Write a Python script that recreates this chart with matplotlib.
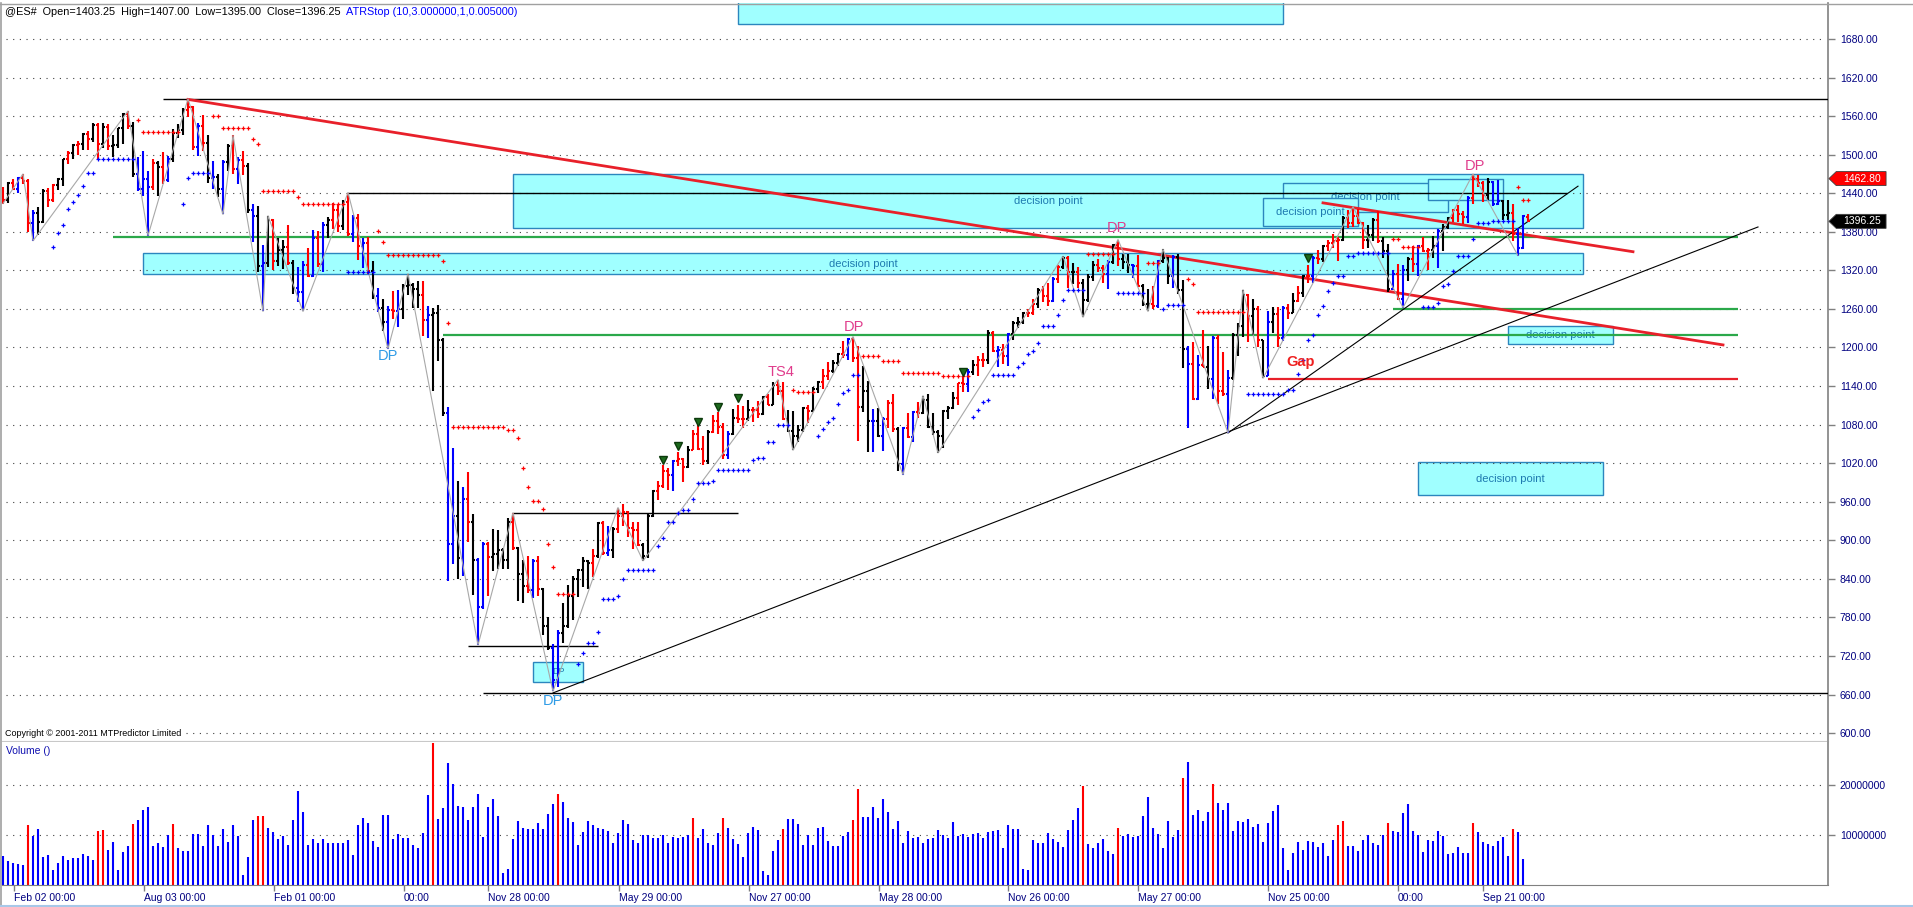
import numpy as np
import pandas as pd
import matplotlib
matplotlib.use("Agg")
import matplotlib.pyplot as plt
import matplotlib.transforms as mtransforms
from matplotlib.patches import Rectangle, Polygon
from matplotlib.lines import Line2D

plt.rcParams['font.family'] = ['Liberation Sans', 'DejaVu Sans']

# weekly @ES# bars, Jan 2007 .. Nov 2012
opens = [
    1440, 1430, 1456, 1446, 1463, 1459, 1393, 1409, 1395, 1444,
    1430, 1453, 1462, 1493, 1503, 1515, 1516, 1532, 1525, 1546,
    1517, 1543, 1513, 1515, 1541, 1563, 1545, 1470, 1446, 1462,
    1450, 1487, 1481, 1460, 1494, 1534, 1538, 1570, 1574, 1512,
    1545, 1518, 1463, 1466, 1447, 1488, 1513, 1477, 1492, 1483,
    1414, 1405, 1327, 1331, 1398, 1334, 1352, 1356, 1331, 1293,
    1286, 1328, 1312, 1370, 1330, 1390, 1398, 1414, 1389, 1427,
    1377, 1402, 1358, 1362, 1319, 1280, 1262, 1240, 1259, 1256,
    1260, 1295, 1297, 1291, 1281, 1243, 1251, 1254, 1211, 1098,
    894, 938, 873, 965, 928, 870, 796, 895, 874, 878,
    885, 870, 928, 888, 847, 829, 822, 867, 824, 767,
    733, 683, 755, 766, 813, 840, 854, 867, 864, 875,
    927, 880, 885, 917, 938, 944, 919, 916, 893, 876,
    938, 977, 985, 1008, 1002, 1024, 1026, 1014, 1041, 1066,
    1042, 1023, 1069, 1085, 1077, 1033, 1066, 1090, 1088, 1088,
    1103, 1103, 1097, 1123, 1111, 1141, 1132, 1088, 1070, 1062,
    1072, 1106, 1101, 1135, 1146, 1156, 1163, 1176, 1190, 1189,
    1213, 1183, 1107, 1132, 1085, 1086, 1062, 1088, 1114, 1073,
    1019, 1074, 1061, 1100, 1098, 1118, 1076, 1068, 1062, 1101,
    1106, 1122, 1145, 1143, 1162, 1172, 1180, 1180, 1222, 1195,
    1196, 1186, 1221, 1238, 1240, 1253, 1254, 1268, 1290, 1280,
    1273, 1307, 1326, 1340, 1317, 1318, 1301, 1274, 1310, 1329,
    1324, 1315, 1333, 1359, 1337, 1333, 1329, 1327, 1296, 1267,
    1268, 1265, 1335, 1340, 1312, 1341, 1289, 1197, 1174, 1120,
    1173, 1170, 1151, 1214, 1133, 1128, 1152, 1220, 1234, 1281,
    1249, 1260, 1212, 1155, 1240, 1252, 1215, 1262, 1253, 1273,
    1285, 1311, 1312, 1340, 1338, 1358, 1362, 1366, 1368, 1401,
    1394, 1405, 1394, 1367, 1375, 1399, 1365, 1350, 1291, 1314,
    1275, 1321, 1338, 1330, 1358, 1350, 1352, 1358, 1382, 1387,
    1401, 1414, 1408, 1403, 1433, 1462, 1456, 1437, 1457, 1423,
    1428, 1406, 1410, 1376, 1355, 1403.25]
highs = [
    1449, 1458, 1462, 1465, 1470, 1462, 1414, 1418, 1446, 1448,
    1455, 1463, 1494, 1506, 1516, 1521, 1534, 1537, 1549, 1550,
    1549, 1547, 1531, 1542, 1565, 1568, 1551, 1497, 1505, 1475,
    1493, 1490, 1504, 1498, 1540, 1548, 1572, 1587, 1576, 1550,
    1562, 1530, 1490, 1470, 1492, 1517, 1530, 1496, 1505, 1487,
    1423, 1420, 1360, 1405, 1400, 1370, 1368, 1390, 1336, 1326,
    1334, 1355, 1383, 1382, 1396, 1403, 1425, 1422, 1430, 1441,
    1406, 1407, 1370, 1372, 1335, 1292, 1276, 1265, 1288, 1289,
    1299, 1315, 1301, 1303, 1304, 1265, 1262, 1266, 1214, 1107,
    1044, 993, 983, 1007, 941, 873, 897, 897, 917, 916,
    888, 934, 943, 890, 870, 876, 871, 875, 826, 780,
    738, 760, 802, 831, 845, 855, 874, 869, 887, 929,
    930, 922, 920, 951, 956, 946, 929, 929, 896, 941,
    979, 993, 1017, 1012, 1025, 1038, 1028, 1047, 1072, 1079,
    1062, 1072, 1095, 1099, 1083, 1070, 1104, 1111, 1109, 1118,
    1107, 1117, 1125, 1127, 1146, 1150, 1147, 1103, 1101, 1079,
    1108, 1110, 1138, 1148, 1166, 1177, 1180, 1191, 1210, 1214,
    1217, 1203, 1171, 1148, 1105, 1106, 1092, 1118, 1128, 1077,
    1076, 1098, 1101, 1115, 1125, 1128, 1098, 1072, 1102, 1109,
    1130, 1145, 1155, 1166, 1180, 1187, 1192, 1227, 1226, 1203,
    1205, 1223, 1241, 1247, 1255, 1260, 1276, 1292, 1296, 1300,
    1310, 1328, 1342, 1342, 1332, 1325, 1306, 1315, 1335, 1337,
    1328, 1336, 1361, 1368, 1346, 1345, 1330, 1344, 1299, 1291,
    1296, 1336, 1353, 1341, 1344, 1346, 1305, 1202, 1208, 1189,
    1227, 1203, 1218, 1219, 1193, 1165, 1222, 1238, 1290, 1283,
    1275, 1265, 1212, 1256, 1263, 1263, 1264, 1268, 1285, 1295,
    1313, 1329, 1342, 1351, 1360, 1367, 1376, 1372, 1404, 1414,
    1419, 1415, 1395, 1390, 1402, 1412, 1372, 1361, 1320, 1330,
    1328, 1341, 1358, 1360, 1372, 1355, 1373, 1384, 1392, 1403,
    1416, 1422, 1412, 1435, 1470, 1469, 1459, 1463, 1459, 1460,
    1430, 1430, 1423, 1386, 1406, 1407]
lows = [
    1424, 1425, 1445, 1440, 1455, 1379, 1366, 1375, 1393, 1418,
    1426, 1445, 1452, 1486, 1494, 1500, 1508, 1507, 1520, 1494,
    1510, 1508, 1497, 1510, 1517, 1540, 1466, 1444, 1435, 1374,
    1445, 1436, 1454, 1457, 1488, 1526, 1530, 1558, 1507, 1498,
    1505, 1456, 1447, 1434, 1407, 1474, 1470, 1455, 1468, 1410,
    1364, 1318, 1256, 1325, 1320, 1327, 1322, 1328, 1283, 1270,
    1256, 1310, 1310, 1326, 1318, 1371, 1384, 1380, 1383, 1373,
    1364, 1336, 1324, 1315, 1276, 1255, 1225, 1198, 1245, 1232,
    1245, 1282, 1261, 1262, 1218, 1215, 1132, 1179, 1093, 836,
    863, 840, 845, 897, 815, 737, 793, 813, 852, 855,
    855, 856, 885, 806, 802, 818, 810, 814, 753, 730,
    665, 671, 740, 764, 776, 812, 828, 824, 843, 873,
    877, 876, 873, 912, 923, 905, 887, 891, 868, 872,
    936, 962, 982, 978, 976, 1016, 990, 1012, 1040, 1040,
    1017, 1018, 1067, 1066, 1026, 1027, 1064, 1083, 1075, 1086,
    1084, 1090, 1095, 1110, 1110, 1126, 1087, 1068, 1040, 1053,
    1069, 1083, 1101, 1129, 1136, 1150, 1160, 1171, 1183, 1180,
    1177, 1055, 1100, 1037, 1038, 1060, 1039, 1075, 1069, 1008,
    1002, 1059, 1053, 1090, 1097, 1074, 1064, 1036, 1044, 1088,
    1105, 1111, 1131, 1131, 1157, 1155, 1170, 1175, 1193, 1170,
    1175, 1171, 1212, 1230, 1236, 1248, 1251, 1262, 1270, 1265,
    1270, 1300, 1322, 1292, 1299, 1292, 1247, 1271, 1303, 1318,
    1300, 1291, 1330, 1327, 1322, 1316, 1308, 1294, 1265, 1256,
    1260, 1262, 1331, 1298, 1293, 1283, 1168, 1074, 1118, 1118,
    1169, 1135, 1120, 1112, 1125, 1067, 1150, 1187, 1216, 1208,
    1220, 1200, 1152, 1155, 1223, 1200, 1210, 1244, 1253, 1270,
    1278, 1300, 1300, 1330, 1333, 1350, 1355, 1335, 1365, 1386,
    1388, 1392, 1353, 1355, 1365, 1363, 1340, 1286, 1290, 1274,
    1262, 1303, 1317, 1311, 1348, 1321, 1339, 1323, 1350, 1384,
    1396, 1395, 1392, 1394, 1423, 1449, 1427, 1429, 1420, 1422,
    1399, 1399, 1366, 1343, 1354, 1395]
closes = [
    1430, 1456, 1446, 1463, 1459, 1393, 1409, 1395, 1444, 1430,
    1453, 1462, 1493, 1503, 1515, 1516, 1532, 1525, 1546, 1517,
    1543, 1513, 1515, 1541, 1563, 1545, 1470, 1446, 1462, 1450,
    1487, 1481, 1460, 1494, 1534, 1538, 1570, 1574, 1512, 1545,
    1518, 1463, 1466, 1447, 1488, 1513, 1477, 1492, 1483, 1414,
    1405, 1327, 1331, 1398, 1334, 1352, 1356, 1331, 1293, 1286,
    1328, 1312, 1370, 1330, 1390, 1398, 1414, 1389, 1427, 1377,
    1402, 1358, 1362, 1319, 1280, 1262, 1240, 1259, 1256, 1260,
    1295, 1297, 1291, 1281, 1243, 1251, 1254, 1211, 1098, 894,
    938, 873, 965, 928, 870, 796, 895, 874, 878, 885,
    870, 928, 888, 847, 829, 822, 867, 824, 767, 733,
    683, 756, 766, 813, 840, 854, 867, 864, 875, 927,
    880, 885, 917, 938, 944, 919, 916, 893, 876, 938,
    977, 985, 1008, 1002, 1024, 1026, 1014, 1041, 1066, 1042,
    1023, 1069, 1085, 1077, 1033, 1066, 1090, 1088, 1088, 1103,
    1103, 1097, 1123, 1111, 1141, 1132, 1088, 1070, 1062, 1072,
    1106, 1101, 1135, 1146, 1156, 1163, 1176, 1190, 1189, 1213,
    1183, 1107, 1132, 1085, 1086, 1062, 1088, 1114, 1073, 1019,
    1074, 1061, 1100, 1098, 1118, 1076, 1068, 1062, 1101, 1106,
    1122, 1145, 1143, 1162, 1172, 1180, 1180, 1222, 1195, 1196,
    1186, 1221, 1238, 1240, 1253, 1254, 1268, 1290, 1280, 1273,
    1307, 1326, 1340, 1317, 1318, 1301, 1274, 1310, 1329, 1324,
    1315, 1333, 1359, 1337, 1333, 1329, 1327, 1296, 1267, 1268,
    1265, 1335, 1340, 1312, 1341, 1289, 1197, 1174, 1120, 1173,
    1170, 1151, 1214, 1133, 1128, 1152, 1220, 1234, 1281, 1249,
    1260, 1212, 1155, 1240, 1252, 1215, 1262, 1253, 1273, 1285,
    1311, 1312, 1340, 1338, 1358, 1362, 1366, 1368, 1401, 1394,
    1405, 1394, 1367, 1375, 1399, 1365, 1350, 1291, 1314, 1275,
    1321, 1338, 1330, 1358, 1350, 1352, 1358, 1382, 1387, 1401,
    1414, 1408, 1403, 1433, 1462, 1456, 1437, 1457, 1423, 1428,
    1406, 1410, 1376, 1355, 1404, 1396.25]
# k = black, r = red, b = blue
bar_colors = ("rkrbrrbkkr" "rkkrkrkrkr" "krkkkrkbbb" "rkrbkkkrrb" "rkbkbkrbrk"
              "bkbkrkkrkb" "brbrbkrrkr" "brbrkbkbrb" "kkkkrbkk"
              "kbbkbrkbbr" "kkkkrkkrbr" "kkbbkkkkkk" "rkrbkrrrrr" "kkkrrrbrrk"
              "rrrkrrrbkr" "rkrrkrkrrk" "kkkrkkrrkk" "rbrrkkbk"
              "brrkbrbrkk" "kkkkkrrbkr" "rkrbrbkkkr" "rkrrbrkrkr" "kkkrrbkrkk"
              "brkkrbkkbk" "kbrbrkbrrb" "kkkrkrkbkr" "brkr"
              "krbrkrrrkr" "rrrkkrkkbr" "bkrbrrkbkk" "rrrbrrrkbb" "kkrbbr")

# volume in millions
volume = [
    5.8, 4.9, 4.5, 4.2, 4.0, 12.0, 9.8, 11.2, 5.6, 6.1,
    3.1, 4.5, 5.9, 5.0, 5.4, 5.4, 6.2, 5.9, 5.1, 10.8,
    11.0, 7.1, 8.7, 3.1, 6.7, 7.9, 12.3, 13.0, 15.1, 15.6,
    7.8, 8.5, 7.6, 10.0, 12.2, 7.4, 6.9, 6.9, 10.2, 10.2,
    7.8, 12.0, 10.1, 7.8, 11.2, 8.6, 12.0, 9.8, 2.0, 5.6,
    13.0, 13.8, 13.8, 11.5, 10.6, 9.2, 9.8, 8.1, 13.0, 18.8,
    14.7, 8.1, 9.2, 8.4, 9.2, 8.4, 8.4, 8.4, 8.4, 9.1,
    6.1, 12.0, 13.5, 12.5, 8.9, 7.6, 14.0, 14.0, 9.2, 10.2,
    9.5, 9.5, 8.1, 7.4, 10.4, 18.0, 28.5, 13.2, 15.4, 24.4,
    20.3, 15.9, 15.6, 13.0, 15.6, 18.3, 9.6, 15.6, 17.3, 13.8,
    2.4, 3.2, 9.2, 12.9, 11.5, 11.3, 11.3, 12.5, 11.3, 14.2,
    16.3, 18.3, 16.7, 13.5, 12.7, 8.1, 10.6, 12.9, 12.1, 11.5,
    11.3, 10.8, 8.5, 10.4, 13.0, 12.3, 9.1, 8.5, 10.0, 10.0,
    9.5, 9.5, 10.0, 8.4, 9.6, 9.4, 9.6, 10.0, 13.5, 9.4,
    11.2, 8.5, 8.1, 10.4, 13.5, 11.5, 9.2, 8.3, 5.7, 10.4,
    11.7, 11.0, 2.8, 2.0, 6.9, 9.1, 11.2, 13.2, 13.2, 12.2,
    8.1, 10.0, 8.1, 11.5, 11.7, 8.9, 7.8, 7.8, 9.8, 10.6,
    13.0, 19.3, 13.6, 13.6, 15.6, 13.5, 17.3, 14.7, 11.3, 12.9,
    8.5, 10.8, 9.4, 9.6, 8.4, 9.3, 9.4, 11.1, 10.0, 9.5,
    12.7, 9.9, 10.3, 9.7, 10.2, 10.4, 9.5, 10.7, 10.9, 11.1,
    7.5, 12.0, 11.2, 11.2, 3.3, 3.0, 9.0, 8.4, 8.4, 10.4,
    9.3, 8.7, 7.7, 11.1, 13.1, 15.5, 19.9, 8.2, 7.5, 8.4,
    9.2, 6.9, 6.3, 11.5, 9.9, 10.2, 9.7, 9.9, 13.9, 17.7,
    11.5, 10.3, 7.5, 12.9, 9.7, 11.1, 21.5, 24.7, 14.0, 15.1,
    12.9, 14.7, 20.3, 16.5, 15.1, 16.5, 10.9, 12.9, 12.7, 13.3,
    11.7, 12.3, 8.7, 12.5, 14.9, 16.1, 7.5, 3.1, 6.4, 8.7,
    7.1, 8.9, 8.7, 7.7, 8.4, 5.9, 9.1, 12.0, 12.9, 7.9,
    7.9, 6.9, 9.1, 10.0, 8.4, 8.1, 10.0, 12.5, 10.9, 10.7,
    14.5, 16.3, 10.9, 10.0, 6.7, 9.1, 8.9, 10.9, 9.9, 6.3,
    6.4, 7.7, 6.5, 6.5, 12.5, 10.7, 8.7, 8.3, 7.9, 8.9,
    9.7, 5.9, 11.2, 10.7, 5.3]
red_volume_bars = [5, 19, 20, 26, 34, 51, 52, 86, 111, 138, 144, 156, 170, 171,
                   216, 223, 236, 242, 267, 268, 277, 294, 302]

date_ticks = [2.1, 28.2, 54.2, 80.2, 97, 123.1, 149.1, 175.2, 201, 227, 253, 279, 296]
date_labels = ['Feb 02 00:00', 'Aug 03 00:00', 'Feb 01 00:00', '00:00', 'Nov 28 00:00',
               'May 29 00:00', 'Nov 27 00:00', 'May 28 00:00', 'Nov 26 00:00',
               'May 27 00:00', 'Nov 25 00:00', '00:00', 'Sep 21 00:00']
price_ticks = list(range(600, 1681, 60))
volume_ticks = [10000000, 20000000]

# swing line pivots (bar index, H = high / L = low)
swing_bars = [0, 4, 6, 25, 29, 37, 44, 46, 52, 53, 60, 69, 77, 81, 95, 102, 110, 123, 128,
              155, 158, 170, 180, 184, 187, 212, 216, 223, 229, 232, 245, 248, 252, 270,
              280, 294, 303]
swing_kind = "LH" * 18 + "L"

# "decision point" zones
zone_left = [147, 28, 102, 256, 252, 285, 283, 301, 106]
zone_right = [256, 316, 316, 289, 271, 300, 320, 322, 116]
zone_top = [1740, 1347, 1470, 1456, 1433, 1462, 1022, 1233, 711]
zone_bottom = [1703, 1314, 1386, 1411, 1389, 1429, 970, 1205, 680]
zone_text = ['', 'decision point', 'decision point', 'decision point', 'decision point',
             '', 'decision point', 'decision point', 'DP']

# horizontal levels
level_price = [1586, 1440, 943, 735, 662, 1372, 1219, 1260, 1151]
level_from = [32, 68.8, 102, 93, 96, 22, 88, 278, 253]
level_to = [366, 312.8, 147, 119, 366, 347, 347, 347, 347]
level_color = ['k', 'k', 'k', 'k', 'k', 'g', 'g', 'g', 'r']

# trend lines
trend_x0 = [37, 264, 110, 245]
trend_p0 = [1586, 1425, 662.5, 1067]
trend_x1 = [344, 326, 351, 315]
trend_p1 = [1204, 1349, 1387.5, 1451]
trend_color = ['r', 'r', 'k', 'k']

signal_bars = [132, 135, 139, 143, 147, 192, 261]
signal_price = [1025, 1046, 1084, 1107, 1121, 1162, 1339]

label_text = ['DP', 'DP', 'DP', 'DP', 'DP', 'TS4', 'Gap']
label_x = [77, 110, 170.2, 222.8, 294.3, 155.6, 259.6]
label_p = [1187, 650, 1232, 1386, 1482, 1162, 1177]
label_color = ['#2e9be6', '#2e9be6', '#e03c8c', '#e03c8c', '#e03c8c', '#e03c8c', '#ee2020']

tag_values = [1462.80, 1396.25]
tag_colors = ['#ff0000', '#000000']


def atr_stop(h, l, c, n=10, k=2.0):
    h, l, c = np.asarray(h, float), np.asarray(l, float), np.asarray(c, float)
    pc = np.r_[c[0], c[:-1]]
    tr = np.maximum(h - l, np.maximum(np.abs(h - pc), np.abs(l - pc)))
    atr = pd.Series(tr).rolling(n).mean().to_numpy()
    stop = np.full(len(c), np.nan)
    up = np.zeros(len(c), bool)
    long_ = True
    s = c[n - 1] - k * atr[n - 1]
    for i in range(n, len(c)):
        stop[i] = s
        up[i] = long_
        if long_:
            if c[i] < s:
                long_ = False
                s = c[i] + k * atr[i]
            else:
                s = max(s, c[i] - k * atr[i])
        else:
            if c[i] > s:
                long_ = True
                s = c[i] - k * atr[i]
            else:
                s = min(s, c[i] + k * atr[i])
    return stop, up


W, H = 1913, 907
fig = plt.figure(figsize=(W / 100, H / 100), dpi=100)
fig.patch.set_facecolor('white')
ax = fig.add_axes([2 / W, 1 - 741 / H, 1826 / W, 738 / H])
axv = fig.add_axes([2 / W, 1 - 885 / H, 1826 / W, 143 / H])

n = len(closes)
idx = np.arange(n)
for a in (ax, axv):
    a.set_xlim(-0.2, 365)
    for s in a.spines.values():
        s.set_visible(False)
    a.spines['right'].set_visible(True)
    a.spines['right'].set_color('#808080')
    a.spines['right'].set_linewidth(1.2)
ax.set_ylim(587.7, 1736)
axv.set_ylim(0, 28.6e6)
ax.spines['bottom'].set_visible(True)
ax.spines['bottom'].set_color('#c8c8c8')
axv.spines['bottom'].set_visible(True)
axv.spines['bottom'].set_color('#808080')

dots = dict(color='#404040', lw=0.8, ls=(0, (1, 5)), zorder=2)
for y in price_ticks:
    ax.axhline(y, xmin=0.002, xmax=0.998, **dots)
for y in volume_ticks:
    axv.axhline(y, xmin=0.002, xmax=0.998, **dots)

# zones
for j in range(len(zone_left)):
    z = 1 + j * 0.01
    ax.add_patch(Rectangle((zone_left[j], zone_bottom[j]), zone_right[j] - zone_left[j],
                           zone_top[j] - zone_bottom[j], facecolor='#a0ffff',
                           edgecolor='#2c86be', lw=1, zorder=z))
    if zone_text[j]:
        ax.text((zone_left[j] + zone_right[j]) / 2, (zone_top[j] + zone_bottom[j]) / 2,
                zone_text[j], ha='center', va='center', color='#1e7ab0',
                fontsize=8 if zone_text[j] != 'DP' else 6.5, zorder=z + 0.005)

cmap = {'k': '#000000', 'r': '#e8202a', 'g': '#2ba84a', 'b': '#0000ff'}
for j in range(len(level_price)):
    lw = 1.0 if level_color[j] == 'k' else 1.6
    ax.plot([level_from[j], level_to[j]], [level_price[j]] * 2, color=cmap[level_color[j]],
            lw=lw, zorder=3, solid_capstyle='butt')
for j in range(len(trend_x0)):
    lw = 0.8 if trend_color[j] == 'k' else 2.0
    ax.plot([trend_x0[j], trend_x1[j]], [trend_p0[j], trend_p1[j]],
            color=cmap[trend_color[j]], lw=lw, zorder=3)

# price bars
bar_cols = [{'k': '#000000', 'r': '#ff0000', 'b': '#0000ff'}[c] for c in bar_colors]
ax.vlines(idx, lows, highs, colors=bar_cols, lw=1.5, zorder=4)
ax.hlines(opens, idx - 0.45, idx, colors=bar_cols, lw=1.5, zorder=4)
ax.hlines(closes, idx, idx + 0.45, colors=bar_cols, lw=1.5, zorder=4)

# swing line
sw_p = [highs[i] if k == 'H' else lows[i] for i, k in zip(swing_bars, swing_kind)]
ax.plot(swing_bars, sw_p, color='#a8a8a8', lw=0.8, zorder=4.5)

# ATR stop dots
stop, up = atr_stop(highs, lows, closes)
ax.plot(idx[up], stop[up], '+', color='#0000ff', ms=3.2, mew=0.9, zorder=5)
dn = ~up & ~np.isnan(stop)
ax.plot(idx[dn], stop[dn], '+', color='#ff0000', ms=3.2, mew=0.9, zorder=5)

ax.plot(signal_bars, signal_price, 'v', color='#1d6b1d', mec='#0c3a0c', ms=6, zorder=5)

for t, x, p, c in zip(label_text, label_x, label_p, label_color):
    ax.text(x, p, t, color=c, ha='center', va='center', zorder=6,
            fontsize=10.5, fontweight='bold' if t == 'Gap' else 'normal')

# axis ticks
ax.yaxis.tick_right()
ax.set_yticks(price_ticks)
ax.set_yticklabels([f'{t:.2f}' for t in price_ticks])
ax.set_xticks([])
axv.yaxis.tick_right()
axv.set_yticks(volume_ticks)
axv.set_yticklabels([str(t) for t in volume_ticks])
for a in (ax, axv):
    a.tick_params(axis='y', length=5, width=1, color='#808080', labelcolor='#000080',
                  labelsize=7.5, pad=3.5)
axv.set_xticks(date_ticks)
axv.set_xticklabels(date_labels)
axv.tick_params(axis='x', length=4, width=1, color='#808080', labelcolor='#000080',
                labelsize=7.5, pad=1.5)
for lb in axv.get_xticklabels():
    lb.set_horizontalalignment('left')

# volume bars
vcols = ['#ff0000' if i in red_volume_bars else '#0000ff' for i in range(len(volume))]
axv.vlines(np.arange(len(volume)), 0, np.array(volume) * 1e6, colors=vcols, lw=1.5)

# right-hand price tags
tr = mtransforms.blended_transform_factory(ax.transAxes, ax.transData)
for v, c in zip(tag_values, tag_colors):
    hh = 10.9
    ax.add_patch(Polygon([(1.0005, v), (1.0045, v + hh), (1.0318, v + hh),
                          (1.0318, v - hh), (1.0045, v - hh)], closed=True,
                         facecolor=c, edgecolor='#404040', lw=0.6, transform=tr,
                         clip_on=False, zorder=10))
    ax.text(1.0185, v, f'{v:.2f}', transform=tr, color='white', fontsize=7.5,
            ha='center', va='center', zorder=11, clip_on=False)

# header / footers
fig.text(5 / W, 1 - 12 / H,
         '@ES#  Open=1403.25  High=1407.00  Low=1395.00  Close=1396.25',
         fontsize=7.8, va='center', color='black')
fig.text(346 / W, 1 - 12 / H, 'ATRStop (10,3.000000,1,0.005000)',
         fontsize=7.8, va='center', color='#0000ff')
fig.text(5 / W, 1 - 734 / H, 'Copyright \u00a9 2001-2011 MTPredictor Limited',
         fontsize=6.5, va='center', color='black', zorder=20,
         bbox=dict(facecolor='white', edgecolor='none', pad=0.3))
fig.text(6 / W, 1 - 751 / H, 'Volume ()', fontsize=7.5, va='center', color='#1010b0')

# window frame
fig.add_artist(Line2D([1 / W, 1 / W], [0, 1 - 3 / H], color='#a0a0a0', lw=1.2,
                      transform=fig.transFigure))
fig.add_artist(Line2D([0, 1], [1 - 3.5 / H, 1 - 3.5 / H], color='#a0a0a0', lw=1,
                      transform=fig.transFigure))
fig.add_artist(Line2D([0, 1], [1 - 905.5 / H, 1 - 905.5 / H], color='#a8c8e8', lw=1.5,
                      transform=fig.transFigure))

fig.savefig('out.png', dpi=100, facecolor='white')
